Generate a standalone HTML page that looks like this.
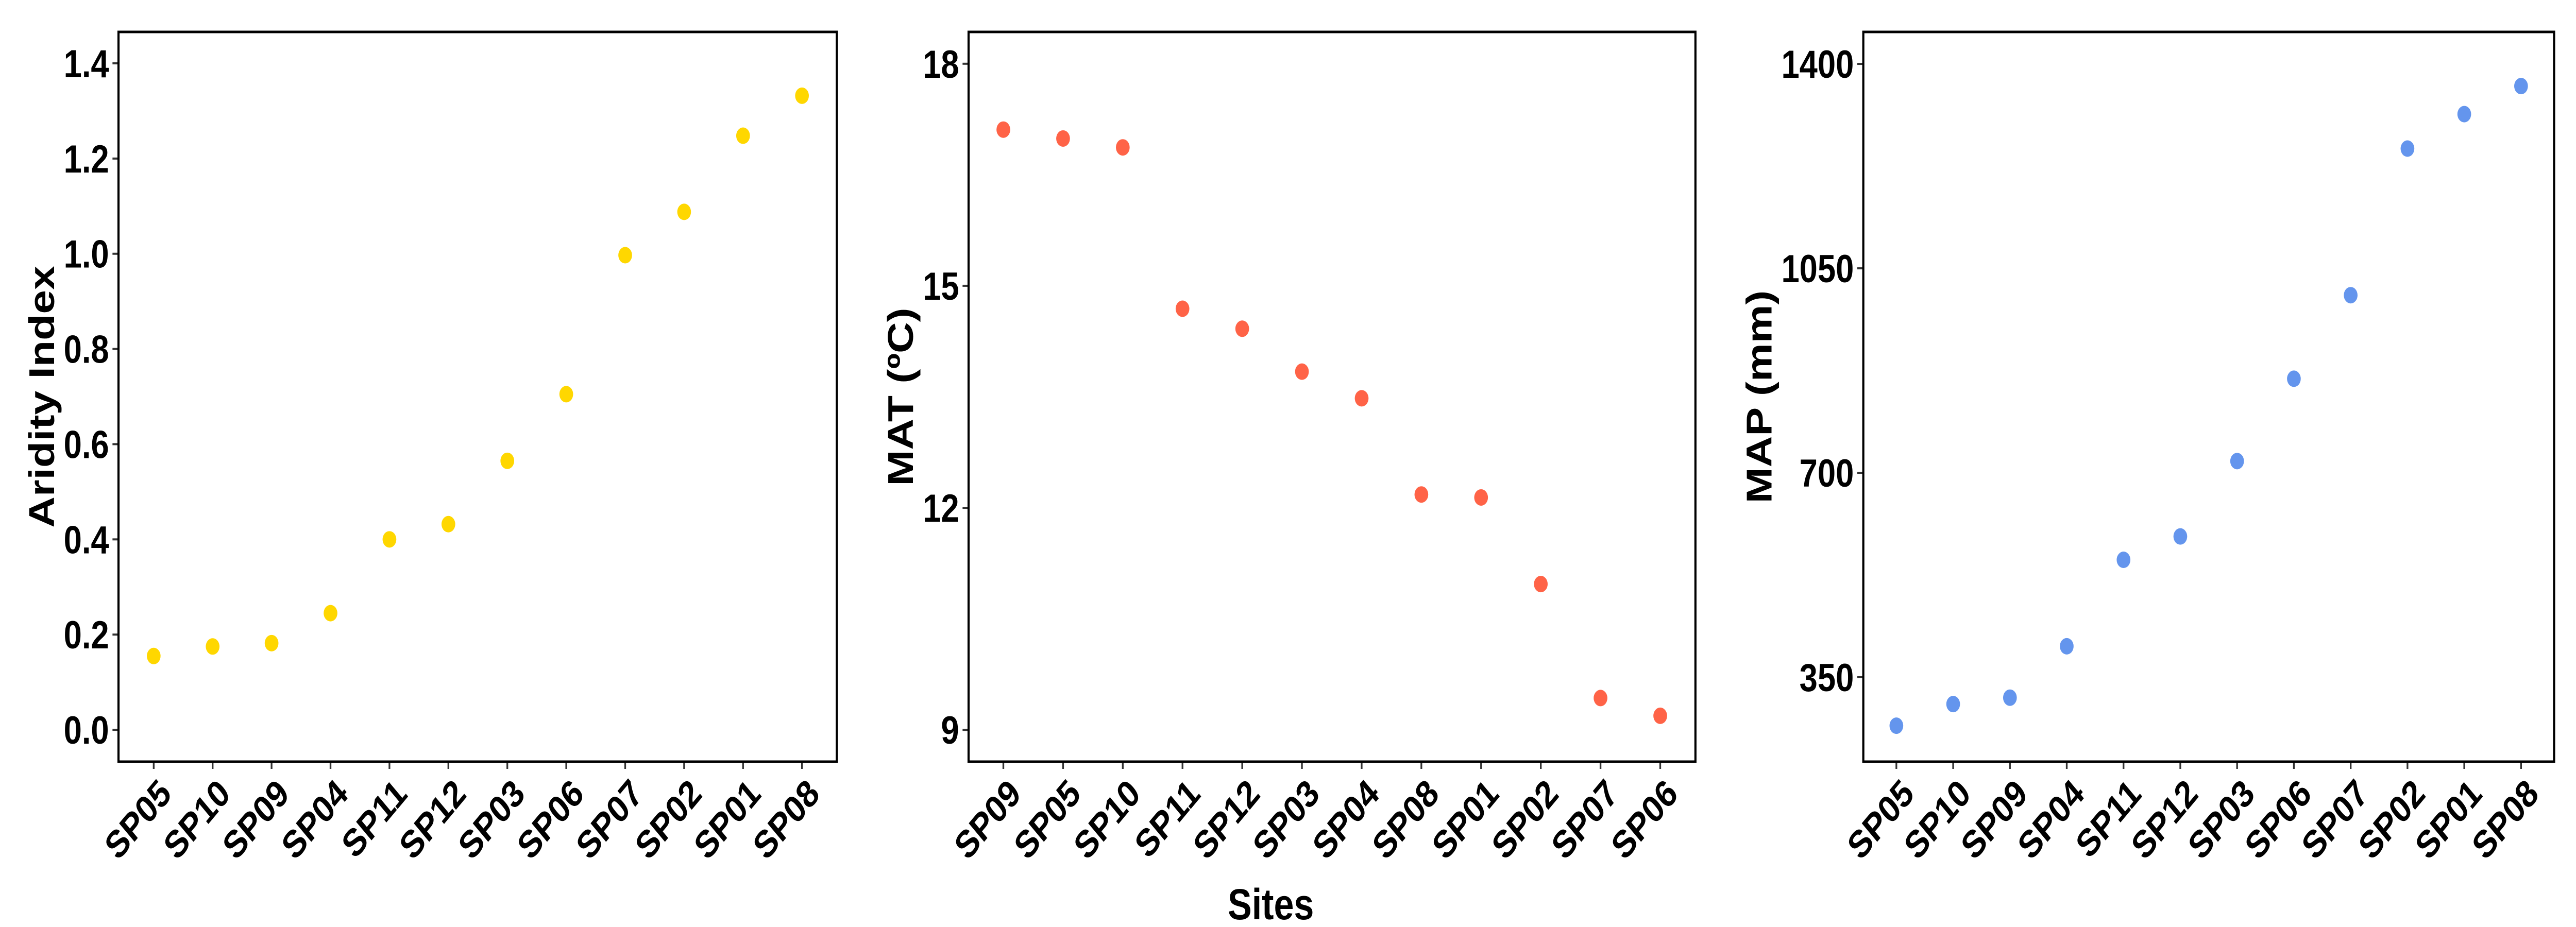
<!DOCTYPE html>
<html><head><meta charset="utf-8"><style>
html,body{margin:0;padding:0;background:#fff;width:100%;height:100%;overflow:hidden;}
svg{display:block;width:100vw;height:100vh;font-family:"Liberation Sans",Arial,sans-serif;font-weight:bold;}
</style></head>
<body>
<svg id="fig" viewBox="0 0 6000 1800" preserveAspectRatio="none" xmlns="http://www.w3.org/2000/svg">
<text x="2960" y="1785" font-size="84" text-anchor="middle">Sites</text>
</svg>
<script>
const ai_sites = ["SP05","SP10","SP09","SP04","SP11","SP12","SP03","SP06","SP07","SP02","SP01","SP08"];
const ai_values = [0.155,0.175,0.182,0.245,0.40,0.432,0.565,0.705,0.997,1.088,1.248,1.332];
const ai_ticks = [0.0,0.2,0.4,0.6,0.8,1.0,1.2,1.4];
const ai_tick_labels = ["0.0","0.2","0.4","0.6","0.8","1.0","1.2","1.4"];

const mat_sites = ["SP09","SP05","SP10","SP11","SP12","SP03","SP04","SP08","SP01","SP02","SP07","SP06"];
const mat_values = [17.11,16.99,16.87,14.69,14.42,13.84,13.48,12.18,12.14,10.97,9.43,9.19];
const mat_ticks = [9,12,15,18];
const mat_tick_labels = ["9","12","15","18"];

const map_sites = ["SP05","SP10","SP09","SP04","SP11","SP12","SP03","SP06","SP07","SP02","SP01","SP08"];
const map_values = [267,304,315,403,551,591,720,861,1004,1255,1314,1362];
const map_ticks = [350,700,1050,1400];
const map_tick_labels = ["350","700","1050","1400"];

const NS = "http://www.w3.org/2000/svg";
const svg = document.getElementById("fig");
function mk(tag, attrs){const e=document.createElementNS(NS,tag);for(const k in attrs)e.setAttribute(k,attrs[k]);return e;}

function panel(id, cfg){
  const g = mk("g",{});
  
  
  svg.appendChild(g);
  const top=62, bottom=1479;
  const y = v => bottom - (v - cfg.ymin)/(cfg.ymax - cfg.ymin)*(bottom-top);
  const n = cfg.sites.length;
  const x = i => cfg.x0 + i*(cfg.x1-cfg.x0)/(n-1);
  cfg.ticks.forEach((t,i)=>{
    const tk = mk("line",{x1:cfg.left-14,x2:cfg.left,y1:y(t),y2:y(t),stroke:"#333","stroke-width":4});
    
    
    g.appendChild(tk);
    const tl = mk("text",{x:cfg.left-22,y:y(t)+27,"font-size":76,"text-anchor":"end"});
    tl.textContent = cfg.tickLabels[i];
    
    
    g.appendChild(tl);
  });
  cfg.sites.forEach((s,i)=>{
    const tk = mk("line",{x1:x(i),x2:x(i),y1:bottom,y2:bottom+14,stroke:"#333","stroke-width":4});
    
    
    g.appendChild(tk);
    const px=x(i)+45, py=1545;
    const tl = mk("text",{x:px,y:py,"font-size":74,"text-anchor":"end",transform:`rotate(-45 ${px} ${py})`});
    tl.textContent = s;
    
    
    g.appendChild(tl);
  });
  cfg.values.forEach((v,i)=>{
    const c = mk("circle",{cx:x(i),cy:y(v),r:16,fill:cfg.color});
    
    
    g.appendChild(c);
  });
  const box = mk("rect",{x:cfg.left,y:top,width:cfg.right-cfg.left,height:bottom-top,fill:"none",stroke:"#000","stroke-width":5});
  
  
  g.appendChild(box);
  const cy=(top+bottom)/2;
  const t = mk("text",{x:cfg.titleX,y:cy,"font-size":84,"text-anchor":"middle","dominant-baseline":"central",transform:`rotate(-90 ${cfg.titleX} ${cy})`});
  t.textContent = cfg.title;
  
  
  g.appendChild(t);
}

panel("aridity",{sites:ai_sites,values:ai_values,ticks:ai_ticks,tickLabels:ai_tick_labels,ymin:-0.067,ymax:1.466,left:276,right:1949,x0:358,x1:1868,color:"#FFD700",title:"Aridity Index",titleX:98});
panel("mat",{sites:mat_sites,values:mat_values,ticks:mat_ticks,tickLabels:mat_tick_labels,ymin:8.57,ymax:18.43,left:2256,right:3949,x0:2337,x1:3867,color:"#FF6347",title:"MAT (ºC)",titleX:2098});
panel("map",{sites:map_sites,values:map_values,ticks:map_ticks,tickLabels:map_tick_labels,ymin:205.4,ymax:1454.7,left:4340,right:5949,x0:4417,x1:5872,color:"#6495ED",title:"MAP (mm)",titleX:4098});
</script>
</body></html>
